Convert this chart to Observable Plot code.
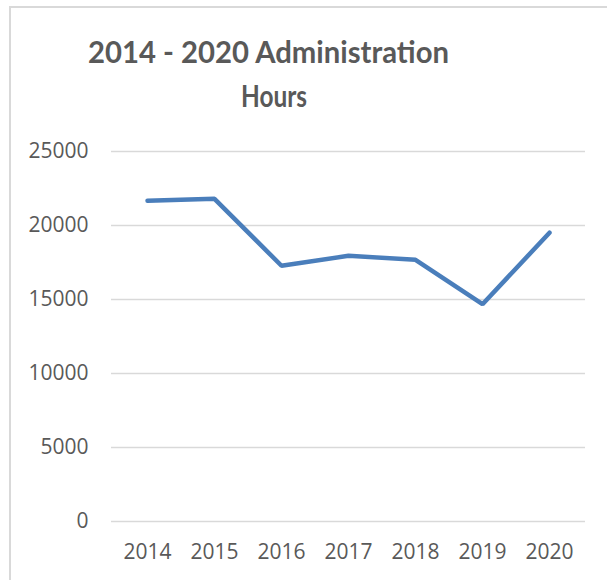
<!DOCTYPE html>
<html><head><meta charset="utf-8">
<script src="https://cdn.jsdelivr.net/npm/d3@7"></script>
<script src="https://cdn.jsdelivr.net/npm/@observablehq/plot@0.6"></script>
<style>
html,body{margin:0;padding:0;background:#fff;overflow:hidden;width:607px;height:580px}
#wrap{position:relative;width:607px;height:580px;overflow:hidden}
#frame{position:absolute;left:9px;top:6px;width:700px;height:700px;border-top:2px solid #d9d9d9;border-left:2px solid #d9d9d9;box-sizing:border-box}
#title{position:absolute;left:0;top:0}
#chart{position:absolute;left:0;top:0}
</style></head><body>
<div id="wrap"><div id="frame"></div><div id="chart"></div><svg id="title" width="607" height="130"></svg></div>
<script>
const years = ["2014", "2015", "2016", "2017", "2018", "2019", "2020"];
const hours = [21670, 21800, 17280, 17950, 17680, 14680, 19510];
const yTicks = [0, 5000, 10000, 15000, 20000, 25000];
const titleLines = ["2014 - 2020 Administration", "Hours"];

const data = years.map((y, i) => ({year: y, hours: hours[i]}));

const plot = Plot.plot({
  width: 607, height: 580,
  marginLeft: 111, marginRight: 22, marginTop: 151, marginBottom: 59,
  style: {fontFamily: "'Open Sans', sans-serif", fontSize: "21px", color: "#595959", background: "transparent"},
  x: {type: "point", domain: years, padding: 0.5, label: null},
  y: {domain: [0, 25000], label: null},
  marks: [
    Plot.ruleY(yTicks, {stroke: "#d9d9d9", strokeWidth: 1.5}),
    Plot.axisY(yTicks, {tickSize: 0, tickPadding: 23, label: null, tickFormat: d => String(d)}),
    Plot.axisX({tickSize: 0, tickPadding: 23, label: null}),
    Plot.line(data, {x: "year", y: "hours", stroke: "#4A7EBB", strokeWidth: 4.5, strokeLinecap: "round", strokeLinejoin: "miter"})
  ]
});
document.getElementById("chart").appendChild(plot);

const t = d3.select("#title");
const specs = [{x: 268.5, y: 63, len: 361}, {x: 274, y: 107, len: 66}];
titleLines.forEach((s, i) => {
  t.append("text").attr("x", specs[i].x).attr("y", specs[i].y)
    .attr("text-anchor", "middle")
    .attr("textLength", specs[i].len).attr("lengthAdjust", "spacingAndGlyphs")
    .style("font-family", "Lato, sans-serif").style("font-weight", "bold").style("font-size", "30px")
    .style("fill", "#595959").text(s);
});
</script>
</body></html>
